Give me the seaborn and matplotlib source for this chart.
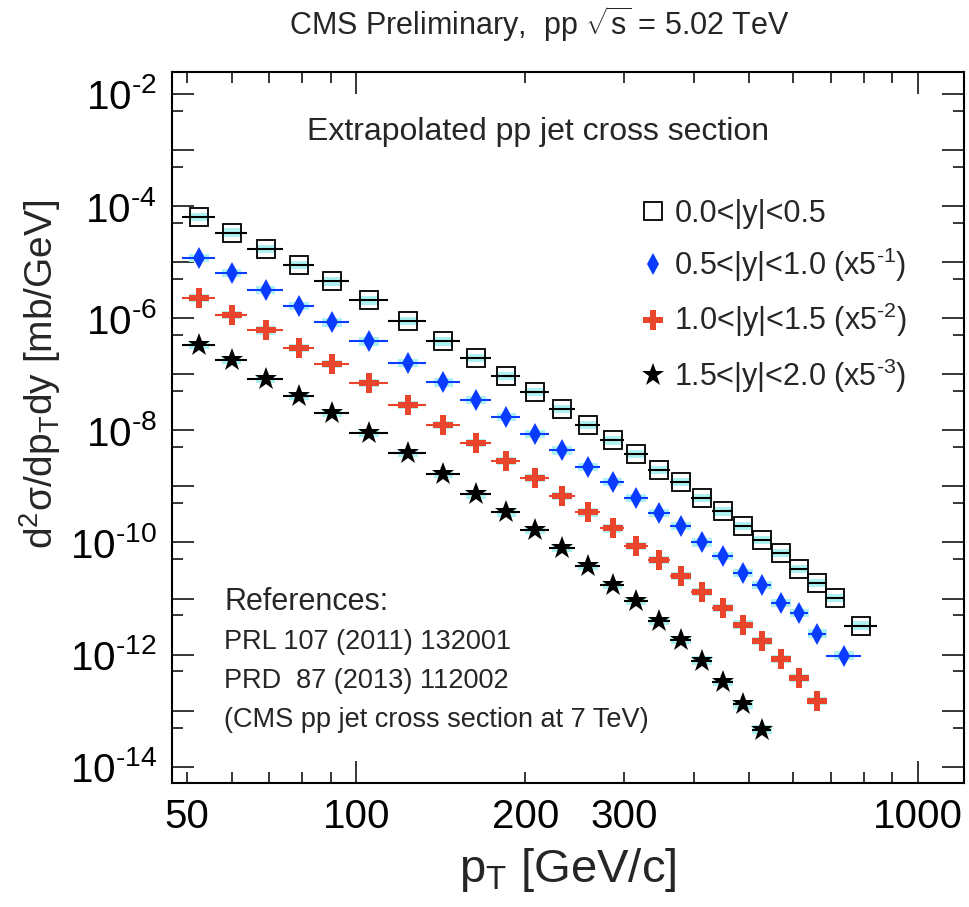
import numpy as np
import pandas as pd
import matplotlib
matplotlib.use("Agg")
import matplotlib.pyplot as plt
import seaborn as sns
from matplotlib.lines import Line2D
from matplotlib.ticker import FixedLocator, FuncFormatter, LogLocator, NullFormatter

# jet pT bin edges [GeV/c]
pt_edges = [49, 56, 64, 74, 84, 97, 114, 133, 153, 174, 196, 220, 245, 272,
            300, 330, 362, 395, 430, 468, 507, 548, 592, 638, 686, 737]

# cross sections as drawn (already multiplied by 5^-k), mb/GeV
xsec_y00_05 = [6.4e-5, 3.37e-5, 1.71e-5, 8.95e-6, 4.51e-6, 2.07e-6, 8.87e-7, 3.84e-7,
               1.94e-7, 9.4e-8, 4.88e-8, 2.40e-8, 1.26e-8, 6.6e-9, 3.83e-9, 1.99e-9,
               1.18e-9, 6.2e-10, 3.58e-10, 1.99e-10, 1.09e-10, 6.5e-11, 3.37e-11,
               1.90e-11, 1.03e-11, 3.29e-12]
xsec_y05_10 = [1.18e-5, 6.37e-6, 3.21e-6, 1.66e-6, 8.38e-7, 3.84e-7, 1.58e-7, 7.14e-8,
               3.47e-8, 1.71e-8, 8.63e-9, 4.38e-9, 2.22e-9, 1.18e-9, 6.21e-10, 3.36e-10,
               1.99e-10, 1.00e-10, 5.82e-11, 2.86e-11, 1.77e-11, 8.35e-12, 5.54e-12,
               2.37e-12, 9.6e-13]
xsec_y10_15 = [2.28e-6, 1.15e-6, 6.04e-7, 2.93e-7, 1.54e-7, 6.97e-8, 2.86e-8, 1.26e-8,
               5.94e-9, 2.87e-9, 1.41e-9, 6.82e-10, 3.44e-10, 1.78e-10, 8.77e-11, 4.93e-11,
               2.56e-11, 1.29e-11, 6.79e-12, 3.43e-12, 1.73e-12, 8.38e-13, 3.84e-13,
               1.47e-13]
xsec_y15_20 = [3.36e-7, 1.81e-7, 8.2e-8, 4.14e-8, 2.06e-8, 8.95e-9, 3.94e-9, 1.68e-9,
               7.2e-10, 3.44e-10, 1.69e-10, 7.98e-11, 3.86e-11, 1.77e-11, 8.91e-12,
               3.93e-12, 1.85e-12, 7.82e-13, 3.21e-13, 1.29e-13, 4.6e-14]

# last (wide) bin upper edge for the two central rapidity bins
last_edge_y00_05 = 846
last_edge_y05_10 = 790

labels = ["0.0<|y|<0.5",
          r"0.5<|y|<1.0 (x5$^{\text{-}1}$)",
          r"1.0<|y|<1.5 (x5$^{\text{-}2}$)",
          r"1.5<|y|<2.0 (x5$^{\text{-}3}$)"]


def make_bins(values, extra_edge=None):
    if extra_edge is None:
        edges = list(pt_edges[:len(values) + 1])
    else:
        edges = list(pt_edges[:len(values)]) + [extra_edge]
    lo = np.array(edges[:-1], dtype=float)
    hi = np.array(edges[1:], dtype=float)
    return lo, hi, (lo + hi) / 2


rows = []
for lab, vals, extra in [(labels[0], xsec_y00_05, last_edge_y00_05),
                         (labels[1], xsec_y05_10, last_edge_y05_10),
                         (labels[2], xsec_y10_15, None),
                         (labels[3], xsec_y15_20, None)]:
    lo, hi, pt = make_bins(vals, extra)
    for a, b, c, v in zip(lo, hi, pt, vals):
        rows.append({"series": lab, "lo": a, "hi": b, "pt": c, "xsec": v})
df = pd.DataFrame(rows)

sns.set_style("ticks")
plt.rcParams["font.family"] = ["Liberation Sans", "DejaVu Sans"]
plt.rcParams["mathtext.fontset"] = "custom"
plt.rcParams["mathtext.rm"] = "Liberation Sans"
plt.rcParams["mathtext.it"] = "Liberation Sans"
plt.rcParams["mathtext.bf"] = "Liberation Sans:bold"

styles = {
    labels[0]: dict(marker="s", color="black", mfc="none", ms=13, mew=1.3),
    labels[1]: dict(marker="d", color="#0a3cff", mfc="#0a3cff", ms=11, mew=0),
    labels[2]: dict(marker="P", color="#e8452c", mfc="#e8452c", ms=14, mew=0),
    labels[3]: dict(marker="*", color="black", mfc="black", ms=17, mew=0),
}
syst_box = [(-1, -0.42), (1, -0.42), (1, 0.42), (-1, 0.42), (-1, -0.42)]

fig = plt.figure(figsize=(9.7, 9.07), dpi=100)
ax = fig.add_axes([0.1773, 0.1367, 0.8165, 0.7839])

for lab in labels:
    d = df[df["series"] == lab]
    st = styles[lab]
    # systematic boxes
    sns.scatterplot(x=d["pt"], y=d["xsec"], marker=syst_box, s=200, color="#aef2f2",
                    edgecolor="none", linewidth=0, ax=ax, legend=False, zorder=1)
    ax.errorbar(d["pt"], d["xsec"], xerr=[d["pt"] - d["lo"], d["hi"] - d["pt"]],
                fmt="none", ecolor=st["color"], elinewidth=1.5, capsize=0, zorder=2)
    ax.plot(d["pt"], d["xsec"], ls="none", marker=st["marker"], ms=st["ms"],
            mfc=st["mfc"], mec=st["color"], mew=st["mew"], zorder=3)

ax.set_xscale("log")
ax.set_yscale("log")
ax.set_xlim(47, 1207)
ax.set_ylim(10 ** -14.29, 10 ** -1.61)

# ticks
ax.xaxis.set_major_locator(FixedLocator([100, 1000]))
ax.xaxis.set_minor_locator(FixedLocator([50, 60, 70, 80, 90, 200, 300, 400, 500, 600, 700, 800, 900]))
ax.xaxis.set_major_formatter(FuncFormatter(lambda v, p: f"{v:.0f}"))
ax.xaxis.set_minor_formatter(FuncFormatter(lambda v, p: f"{v:.0f}" if round(v) in (50, 200, 300) else ""))
ax.yaxis.set_major_locator(LogLocator(base=10, numticks=30))
ax.yaxis.set_minor_locator(LogLocator(base=10, subs=[5], numticks=30))


def ylab(v, p):
    e = int(round(np.log10(v)))
    if e % 2:
        return ""
    sign = r"\text{-}" if e < 0 else ""
    return f"$10^{{{sign}{abs(e)}}}$"


ax.yaxis.set_major_formatter(FuncFormatter(ylab))
ax.yaxis.set_minor_formatter(NullFormatter())

ax.tick_params(which="both", direction="in", top=True, right=True, width=1.1,
               labelsize=29, colors="black")
ax.tick_params(which="major", length=16)
ax.tick_params(which="minor", length=8)
ax.tick_params(axis="x", which="both", pad=11)
ax.tick_params(axis="y", which="both", pad=11)
for sp in ax.spines.values():
    sp.set_linewidth(1.5)
    sp.set_color("black")

ax.set_xlabel(r"p$_{\mathrm{T}}$ [GeV/c]", fontsize=34)
ax.xaxis.set_label_coords(0.5, -0.088)
ax.set_ylabel(r"d$^{2}$σ/dp$_{\mathrm{T}}$dy [mb/GeV]", fontsize=28)
ax.yaxis.set_label_coords(-0.138, 0.575)

fig.text(0.556, 1 - 24 / 907, r"CMS Preliminary,  pp $\sqrt{\mathrm{s}}$ = 5.02 TeV",
         fontsize=22, ha="center", va="center")
ax.text(0.1705, 0.9156, "Extrapolated pp jet cross section", transform=ax.transAxes,
        fontsize=23, ha="left", va="center")

ax.text(0.0657, 0.2546, "References:", transform=ax.transAxes, fontsize=22, va="center")
ref_lines = ["PRL 107 (2011) 132001", "PRD  87 (2013) 112002", "(CMS pp jet cross section at 7 TeV)"]
for i, t in enumerate(ref_lines):
    ax.text(0.0657, 0.1983 - i * 0.0549, t, transform=ax.transAxes, fontsize=19.5, va="center")

handles = []
for lab in labels:
    st = styles[lab]
    handles.append(Line2D([], [], ls="none", marker=st["marker"], ms=st["ms"],
                          mfc=st["mfc"], mec=st["color"], mew=st["mew"]))
ax.legend(handles, labels, loc="upper left", bbox_to_anchor=(0.59, 0.822), frameon=False,
          fontsize=22, handlelength=0.9, handletextpad=0.25, labelspacing=0.56,
          borderpad=0, borderaxespad=0)

fig.savefig("out.png", dpi=100)
